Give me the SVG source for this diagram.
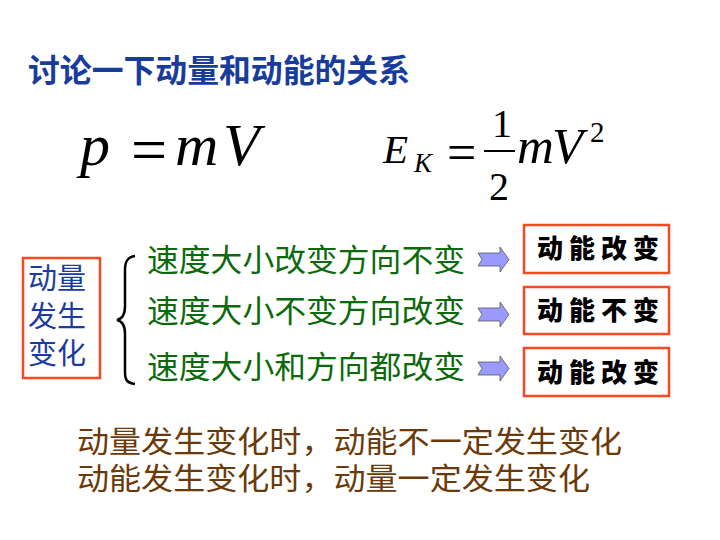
<svg xmlns="http://www.w3.org/2000/svg" width="720" height="540" viewBox="0 0 720 540">
<style>
.cjk{font-family:"Noto Sans CJK SC","Noto Sans",sans-serif}
.title{font-size:32px;font-weight:bold;fill:#173c9a}
.math{font-family:"Liberation Serif","Times New Roman",serif;font-style:italic;fill:#000}
.mathr{font-family:"Liberation Serif","Times New Roman",serif;fill:#000}
.left{font-size:29px;fill:#1b3c9c}
.green{font-size:31px;fill:#0b6a0b}
.res{font-size:26px;font-weight:900;fill:#000;letter-spacing:6px}
.brown{font-size:30px;fill:#6b3a08}
.box{fill:#fff;stroke:#f24a22;stroke-width:2.5}
.arrow{fill:#9b9bff;stroke:#555;stroke-width:0.8;stroke-linejoin:miter}
</style>
<rect width="720" height="540" fill="#fff"/>
<g id="title"><text class="cjk title" x="28" y="82" textLength="382" lengthAdjust="spacingAndGlyphs">讨论一下动量和动能的关系</text></g>
<g id="formula-p">
<text class="math" x="80" y="165" font-size="60">p</text>
<text class="mathr" x="131" y="171" font-size="64">=</text>
<text class="math" x="175" y="165" font-size="60">m</text>
<text class="math" x="223" y="165" font-size="60">V</text>
</g>
<g id="formula-ek">
<text class="math" x="383" y="163" font-size="41">E</text>
<text class="math" x="414" y="172" font-size="27">K</text>
<text class="mathr" x="447" y="170" font-size="52">=</text>
<text class="mathr" x="492" y="137" font-size="40">1</text>
<line x1="484" y1="151" x2="515" y2="151" stroke="#000" stroke-width="2"/>
<text class="mathr" x="489" y="200" font-size="40">2</text>
<text class="math" x="517" y="163" font-size="51">m</text>
<text class="math" x="552" y="163" font-size="51">V</text>
<text class="mathr" x="590" y="142" font-size="29">2</text>
</g>
<g id="node-left">
<rect class="box" x="23" y="258" width="77" height="120"/>
<text class="cjk left"><tspan x="28" y="289">动量</tspan><tspan x="28" y="327">发生</tspan><tspan x="28" y="364">变化</tspan></text>
</g>
<g id="brace"><path d="M135,256 C127,257 125,262 125,270 L125,306 C125,314 122,319 117,320 C122,321 125,326 125,334 L125,372 C125,380 127,383 135,384" fill="none" stroke="#000" stroke-width="2.5"/></g>
<g id="row1"><text class="cjk green" x="147" y="271" textLength="318" lengthAdjust="spacingAndGlyphs">速度大小改变方向不变</text></g>
<g id="row2"><text class="cjk green" x="147" y="322" textLength="318" lengthAdjust="spacingAndGlyphs">速度大小不变方向改变</text></g>
<g id="row3"><text class="cjk green" x="147" y="378" textLength="318" lengthAdjust="spacingAndGlyphs">速度大小和方向都改变</text></g>
<g id="connectors">
<polygon class="arrow" points="478,253 500,253 500,247 509,259.5 500,272 500,266 478,266 482,259.5"/>
<polygon class="arrow" points="478,308 500,308 500,302 509,314.5 500,327 500,321 478,321 482,314.5"/>
<polygon class="arrow" points="478,362 500,362 500,356 509,368.5 500,381 500,375 478,375 482,368.5"/>
</g>
<g id="result1"><rect class="box" x="524" y="225" width="145" height="48"/><text class="cjk res" x="537" y="258">动能改变</text></g>
<g id="result2"><rect class="box" x="524" y="287" width="145" height="47"/><text class="cjk res" x="537" y="320">动能不变</text></g>
<g id="result3"><rect class="box" x="524" y="348" width="145" height="48"/><text class="cjk res" x="537" y="382">动能改变</text></g>
<g id="conclusion">
<text class="cjk brown"><tspan x="77" y="452" textLength="545" lengthAdjust="spacingAndGlyphs">动量发生变化时，动能不一定发生变化</tspan><tspan x="77" y="489" textLength="513" lengthAdjust="spacingAndGlyphs">动能发生变化时，动量一定发生变化</tspan></text>
</g>
</svg>
